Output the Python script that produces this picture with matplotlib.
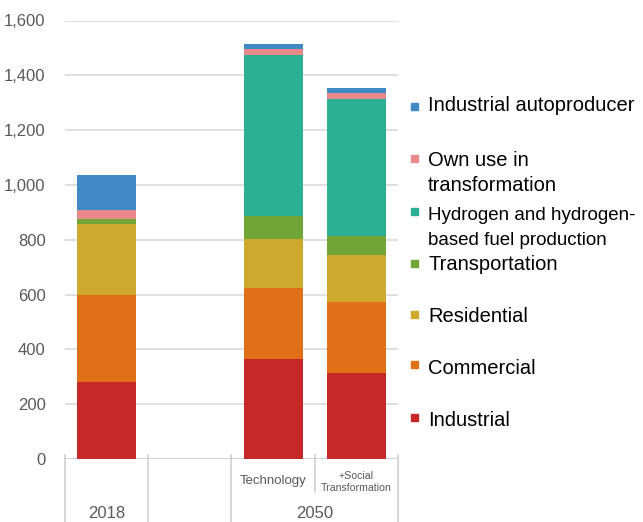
import numpy as np
import matplotlib.pyplot as plt
import matplotlib.transforms as mtransforms

plt.rcParams['font.family'] = ['Liberation Sans', 'DejaVu Sans']

# Data
scenarios = ["2018", "", "Technology", "+Social\nTransformation"]
sectors = ["Industrial", "Commercial", "Residential", "Transportation",
           "Hydrogen and hydrogen-\nbased fuel production",
           "Own use in\ntransformation", "Industrial autoproducer"]
industrial = [281, 0, 366, 313]
commercial = [317, 0, 259, 259]
residential = [261, 0, 178, 174]
transportation = [17, 0, 85, 69]
hydrogen = [0, 0, 585, 499]
own_use = [34, 0, 24, 21]
autoproducer = [125, 0, 16, 17]
yticks = [0, 200, 400, 600, 800, 1000, 1200, 1400, 1600]
groups = ["2018", "2050"]

series = [industrial, commercial, residential, transportation,
          hydrogen, own_use, autoproducer]
colors = ["#C62827", "#E07018", "#CFA82E", "#72A538",
          "#2BB094", "#E88A8A", "#3F89C5"]

W, H = 643, 522
fig = plt.figure(figsize=(W / 100, H / 100), dpi=100)
ax = fig.add_axes([65 / W, 1 - 459 / H, (398 - 65) / W, (459 - 20.5) / H])

x = np.arange(len(scenarios))
bottom = np.zeros(len(scenarios))
for vals, c in zip(series, colors):
    ax.bar(x, vals, width=0.71, bottom=bottom, color=c, zorder=3)
    bottom += np.array(vals)

ax.set_xlim(-0.5, 3.5)
ax.set_ylim(0, 1600)
ax.set_yticks(yticks)
ax.set_yticklabels([f"{v:,}" for v in yticks], fontsize=12, color="#595959")
ax.tick_params(axis="y", length=0, pad=14)
ax.set_xticks([])
ax.grid(axis="y", color="#d9d9d9", linewidth=1.2, zorder=0)
for s in ax.spines.values():
    s.set_visible(False)
ax.axhline(0, color="#d0d0d0", linewidth=1.2, zorder=2)

# two-level category axis
trans = mtransforms.blended_transform_factory(ax.transData, fig.transFigure)
for xb in [-0.5, 0.5, 1.5, 3.5]:
    ax.plot([xb, xb], [1 - 455 / H, 0], transform=trans, color="#d0d0d0",
            linewidth=1.2, clip_on=False)
ax.plot([2.5, 2.5], [1 - 455 / H, 1 - 492 / H], transform=trans,
        color="#d0d0d0", linewidth=1.2, clip_on=False)

ax.text(2, 1 - 481 / H, scenarios[2], transform=trans, ha="center",
        va="center", fontsize=9.5, color="#595959")
ax.text(3, 1 - 482 / H, scenarios[3], transform=trans, ha="center",
        va="center", fontsize=7.6, color="#595959", linespacing=1.35)
ax.text(0, 1 - 513 / H, groups[0], transform=trans, ha="center",
        va="center", fontsize=12, color="#595959")
ax.text(2.5, 1 - 513 / H, groups[1], transform=trans, ha="center",
        va="center", fontsize=12, color="#595959")

# legend drawn by hand (top to bottom)
text_y = [420, 368, 316, 264, 216, 161, 106]
marker_y = [417, 364, 314, 263, 211, 158, 106]
text_size = [14.5, 14.5, 14.5, 14.5, 13.5, 14.5, 14.5]
for label, c, ty, my, fs in zip(sectors, colors, text_y, marker_y, text_size):
    fig.patches.append(plt.Rectangle((411 / W, 1 - (my + 3.5) / H), 7 / W, 7 / H,
                                     transform=fig.transFigure, color=c))
    for i, line in enumerate(label.split("\n")):
        fig.text(428 / W, 1 - (ty + i * 24.5) / H, line, ha="left",
                 va="center", fontsize=fs, color="black")

fig.savefig("out.png", dpi=100)
